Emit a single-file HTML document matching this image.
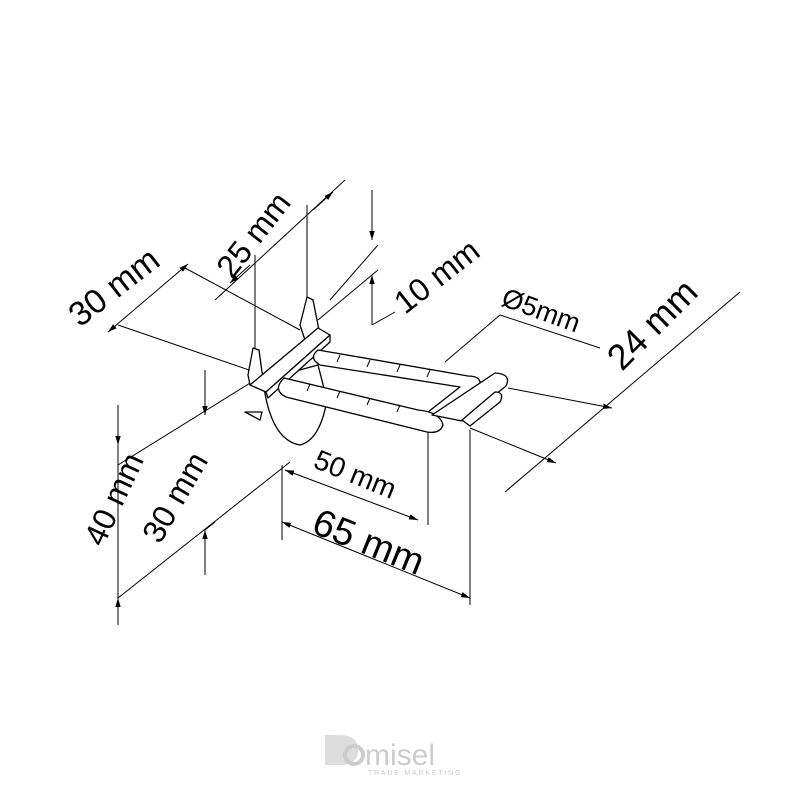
<!DOCTYPE html>
<html><head><style>html,body{margin:0;padding:0;background:#fff}svg{display:block}</style></head><body>
<svg width="800" height="800" viewBox="0 0 800 800" xmlns="http://www.w3.org/2000/svg">
<defs><marker id="a" viewBox="0 0 10 10" refX="10" refY="5" markerWidth="9" markerHeight="9" orient="auto-start-reverse"><path d="M0,2 L10,5 L0,8 z" fill="#000"/></marker></defs>
<g stroke="#000" stroke-width="1" fill="none">
<line x1="185" y1="268" x2="300" y2="330"/>
<line x1="118" y1="325" x2="255" y2="372"/>
<line x1="108" y1="332" x2="188" y2="264" marker-start="url(#a)" marker-end="url(#a)"/>
<line x1="255" y1="255" x2="255" y2="355"/>
<line x1="307" y1="205" x2="307" y2="300"/>
<line x1="215" y1="300" x2="345" y2="180"/>
<line x1="250" y1="265" x2="230" y2="283" marker-end="url(#a)"/>
<line x1="313" y1="210" x2="333" y2="192" marker-end="url(#a)"/>
<line x1="372" y1="190" x2="372" y2="240" marker-end="url(#a)"/>
<line x1="372" y1="325" x2="372" y2="275" marker-end="url(#a)"/>
<line x1="372" y1="325" x2="395" y2="312"/>
<line x1="318" y1="320" x2="378" y2="270"/>
<line x1="330" y1="300" x2="378" y2="245"/>
<line x1="500" y1="315" x2="600" y2="348"/>
<line x1="445" y1="362" x2="500" y2="315"/>
<line x1="740" y1="292" x2="505" y2="492"/>
<line x1="508" y1="388" x2="612" y2="408" marker-end="url(#a)"/>
<line x1="470" y1="428" x2="556" y2="463" marker-end="url(#a)"/>
<line x1="118" y1="405" x2="118" y2="445" marker-end="url(#a)"/>
<line x1="118" y1="625" x2="118" y2="598" marker-end="url(#a)"/>
<line x1="118" y1="445" x2="118" y2="598"/>
<line x1="118" y1="465" x2="255" y2="380"/>
<line x1="118" y1="598" x2="290" y2="462"/>
<line x1="205" y1="370" x2="205" y2="415" marker-end="url(#a)"/>
<line x1="205" y1="575" x2="205" y2="530" marker-end="url(#a)"/>
<line x1="205" y1="530" x2="215" y2="522"/>
<line x1="282" y1="465" x2="282" y2="540"/>
<line x1="428" y1="425" x2="428" y2="525"/>
<line x1="285" y1="470" x2="418" y2="520" marker-start="url(#a)" marker-end="url(#a)"/>
<line x1="470" y1="430" x2="470" y2="605"/>
<line x1="282" y1="522" x2="470" y2="598" marker-start="url(#a)" marker-end="url(#a)"/>
</g>
<g stroke="#000" stroke-width="1.3" fill="#fff" stroke-linejoin="round">
<path d="M263,380 Q270,440 300,445 Q320,440 327,400 L318,365 Z"/>
<path d="M300,325 L307,297 L313,300 L318,325 L320,335 L305,340 Z"/>
<path d="M248,375 L253,348 L259,350 L262,372 L265,385 L250,385 Z"/>
<path d="M250,385 L266,392 L330,335 L318,328 Z"/>
<path d="M266,392 L330,335 L330,342 L268,398 Z"/>
<path d="M318,350 L468,376 Q484,376 479,389 L432,420 L428,412 L460,387 L320,365 Q308,358 318,350 Z"/>
<path d="M284,378 L418,410 Q440,412 443,425 Q440,434 427,432 L286,397 Q272,390 284,378 Z"/>
<path d="M432,415 L495,373 Q512,374 506,386 L462,421 Z"/>
<path d="M462,420 L495,392 Q505,392 500,402 L470,426 Z"/>
<path d="M245,412 L262,412 L260,420 Z"/>
</g>
<g stroke="#000" stroke-width="1">
<line x1="340" y1="355" x2="337" y2="362"/><line x1="370" y1="360" x2="367" y2="367"/><line x1="400" y1="365" x2="397" y2="372"/><line x1="430" y1="370" x2="427" y2="377"/>
<line x1="310" y1="384" x2="307" y2="391"/><line x1="340" y1="391" x2="337" y2="398"/><line x1="370" y1="398" x2="367" y2="405"/><line x1="400" y1="405" x2="397" y2="412"/>
</g>
<g font-family="Liberation Sans, sans-serif" font-size="32" fill="#000">
<text transform="translate(80,328) rotate(-38)" font-size="34">30 mm</text>
<text transform="translate(232,280) rotate(-52)">25 mm</text>
<text transform="translate(405,315) rotate(-38)">10 mm</text>
<text transform="translate(500,305) rotate(20)" font-size="27">Ø5mm</text>
<text transform="translate(622,372) rotate(-45)" font-size="36">24 mm</text>
<text transform="translate(103,548) rotate(-65)">40 mm</text>
<text transform="translate(160,545) rotate(-60)">30 mm</text>
<text transform="translate(312,467) rotate(22)" font-size="28">50 mm</text>
<text transform="translate(310,532) rotate(22)" font-size="38">65 mm</text>
</g>
<g font-family="Liberation Sans, sans-serif" fill="#ccc">
<path d="M325,735 L340,735 Q358,735 358,750 Q358,765 340,765 L325,765 Z" fill="#ddd"/>
<circle cx="354" cy="755" r="9" fill="none" stroke="#ccc" stroke-width="4"/>
<text x="365" y="765" font-size="30">misel</text>
<text x="368" y="775" font-size="7" letter-spacing="1.8">TRADE MARKETING</text>
</g>
</svg>
</body></html>
